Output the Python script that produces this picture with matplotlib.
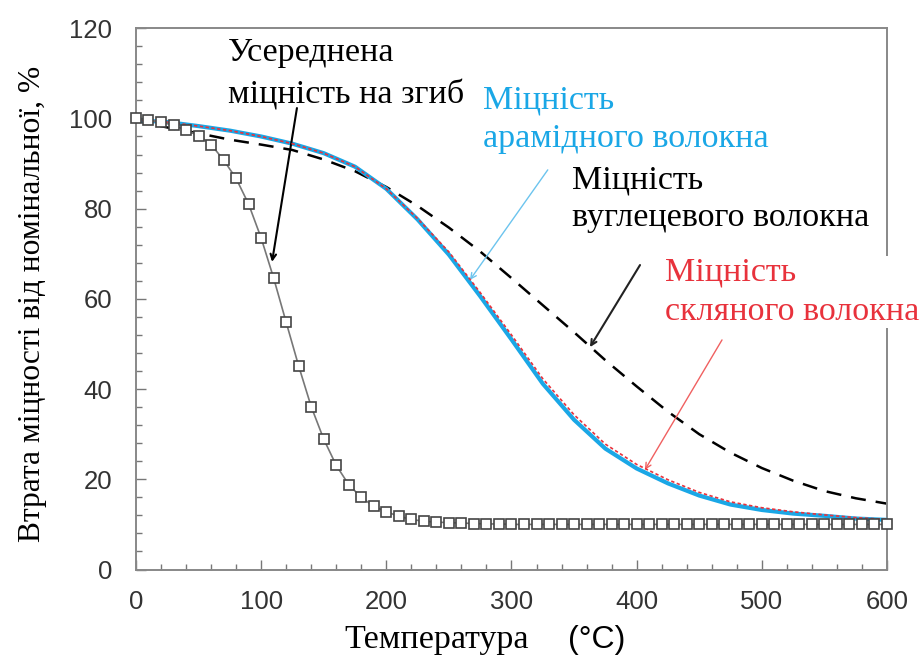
import numpy as np
import matplotlib
matplotlib.use("Agg")
import matplotlib.pyplot as plt
from matplotlib.ticker import MultipleLocator

# flexural strength (squares), every 10 C
temp_sq = np.arange(0, 601, 10)
flex = [100, 99.6, 99.2, 98.5, 97.4, 96.2, 94.2, 90.8, 86.7, 81.0,
        73.5, 64.6, 54.8, 45.1, 36.1, 28.9, 23.1, 18.8, 16.0, 14.0,
        12.8, 11.8, 11.1, 10.7, 10.5, 10.4, 10.3, 10.2, 10.1, 10.1] + [10.0] * 31

# fibre curves, every 25 C
temp = np.arange(0, 601, 25)
aramid = [99.6, 99.2, 98.3, 97.3, 96.0, 94.4, 92.3, 89.3, 84.4, 77.6, 69.8, 60.6, 51.0,
          41.2, 33.2, 26.8, 22.4, 19.1, 16.4, 14.4, 13.2, 12.4, 11.9, 11.3, 11.0]
glass = [99.6, 99.2, 98.3, 97.3, 96.0, 94.4, 92.3, 89.3, 84.4, 77.8, 70.4, 61.4, 52.0,
         42.3, 34.3, 27.8, 23.3, 19.9, 17.1, 15.0, 13.7, 12.8, 12.1, 11.5, 11.1]
carbon = [99.5, 98.0, 96.7, 95.3, 94.2, 93.0, 90.9, 88.3, 84.8, 80.6, 75.8, 70.5, 64.6,
          58.6, 52.6, 46.4, 40.6, 35.0, 30.0, 25.9, 22.5, 19.7, 17.4, 15.8, 14.6]

serif = "Liberation Serif"
sans = "Liberation Sans"
blue = "#1aa7e6"
red = "#e8323c"
fs = 24.5

fig = plt.figure(figsize=(9.2, 6.61), dpi=100)
ax = fig.add_axes([0.1478, 0.1384, 0.8163, 0.8189])

ax.plot(temp, carbon, color="black", lw=1.8, dashes=(6, 4), zorder=2)
ax.plot(temp, aramid, color=blue, lw=3.0, zorder=3)
ax.plot(temp, glass, color=red, lw=1.2, ls=(0, (2, 1.5)), zorder=4)
ax.plot(temp_sq, flex, color="#777777", lw=1.2, marker="s", ms=6.5,
        mfc="white", mec="#444444", mew=1.2, zorder=5, clip_on=False)

ax.set_xlim(0, 600)
ax.set_ylim(0, 120)
ax.xaxis.set_major_locator(MultipleLocator(100))
ax.xaxis.set_minor_locator(MultipleLocator(20))
ax.yaxis.set_major_locator(MultipleLocator(20))
ax.yaxis.set_minor_locator(MultipleLocator(4))
ax.tick_params(which="both", direction="in", colors="#777777", labelcolor="#333333",
               labelsize=18.5, width=1.0)
ax.tick_params(axis="y", which="major", length=7, pad=17)
ax.tick_params(axis="x", which="major", length=7, pad=15)
ax.tick_params(which="minor", length=4)
for lab in ax.get_xticklabels() + ax.get_yticklabels():
    lab.set_fontfamily(sans)
for s in ax.spines.values():
    s.set_color("#888888")
    s.set_linewidth(1.4)

ax.set_ylabel("Втрата міцності від номінальної, %", family=serif, fontsize=22.7)
ax.yaxis.set_label_coords(-0.118, 0.49)
fig.text(0.575, 0.032, "Температура", family=serif, fontsize=fs, ha="right", va="center")
fig.text(0.617, 0.032, "(°C)", family=sans, fontsize=23, ha="left", va="center")

# labels
ax.text(73.5, 109.8, "Усереднена\nміцність на згиб", fontsize=fs, family=serif,
        color="black", ha="left", va="center", linespacing=1.5)
ax.text(277.2, 99.7, "Міцність\nарамідного волокна", fontsize=fs, family=serif,
        color=blue, ha="left", va="center", linespacing=1.35)
ax.text(348.3, 82.2, "Міцність\nвуглецевого волокна", fontsize=fs, family=serif,
        color="black", ha="left", va="center", linespacing=1.3)
ax.text(422.6, 61.5, "Міцність\nскляного волокна", fontsize=fs, family=serif,
        color=red, ha="left", va="center", linespacing=1.35, clip_on=False,
        bbox=dict(boxstyle="square,pad=0.05", fc="white", ec="none"), zorder=6)

# arrows
arrows = [((128.6, 102.3), (108.7, 68.2), "black", 1.5),
          ((329.0, 88.6), (266.8, 64.2), "#6cc4ee", 1.0),
          ((402.7, 67.5), (362.7, 49.3), "#222222", 1.5),
          ((468.2, 50.9), (406.6, 22.1), "#f06060", 1.0)]
for start, end, col, w in arrows:
    ax.annotate("", xy=end, xytext=start,
                arrowprops=dict(arrowstyle="->", color=col, lw=w, shrinkA=0, shrinkB=0))

fig.savefig("out.png", dpi=100)
